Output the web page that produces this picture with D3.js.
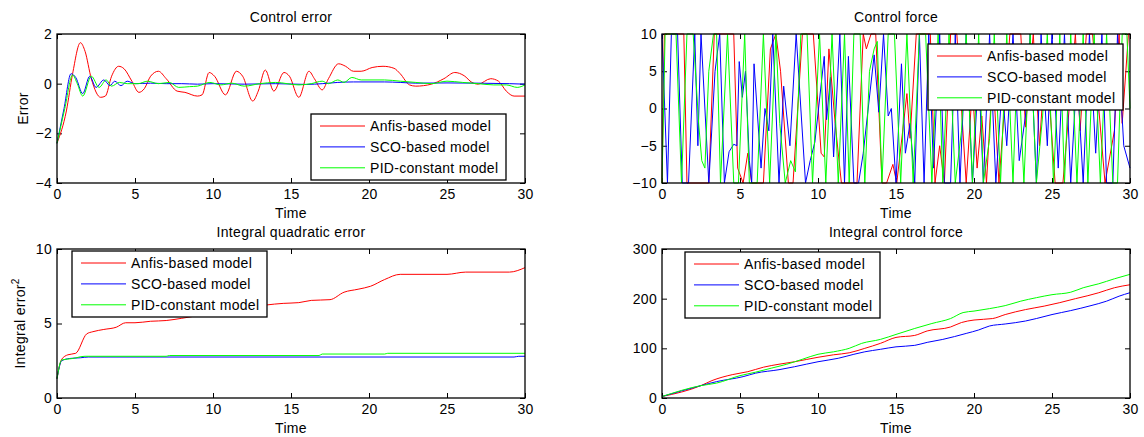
<!DOCTYPE html>
<html>
<head>
<meta charset="utf-8">
<style>
    body { margin: 0; background: #fff; }
    svg { display: block; }
    text { font-family: "Liberation Sans", Arial, Helvetica, sans-serif; fill: #000; letter-spacing: 0.3px; }
    .tick line { stroke: #000; }
    .tick text { font-size: 14px; }
    .lbl { font-size: 14px; }
</style>
</head>
<body>
<svg id="fig" width="1144" height="437"></svg>
<script src="https://d3js.org/d3.v7.min.js"></script>
<script>
    // legend + tick labels
    var seriesNames = ["Anfis-based model", "SCO-based model", "PID-constant model"];
    var seriesColors = ["#ff0000", "#0000ff", "#00ff00"];
    var timeTicks = [0, 5, 10, 15, 20, 25, 30];
    var errorTicks = [-4, -2, 0, 2];
    var forceTicks = [-10, -5, 0, 5, 10];
    var iseTicks = [0, 5, 10];
    var iforceTicks = [0, 100, 200, 300];

    // control error, [time, value]
    var errAnfis = [[0,-2.4],[0.6,-1.1],[1.0,0.4],[1.5,1.65],[1.8,1.3],[2.2,0.2],[2.8,-0.55],[3.1,-0.5],[3.5,0.3],
        [3.95,0.7],[4.3,0.6],[4.8,0.1],[5.25,-0.35],[5.6,-0.2],[6.0,0.3],[6.5,0.5],[7.0,0.2],[7.7,-0.3],[8.2,-0.35],
        [9.0,-0.5],[9.3,-0.45],[9.75,0.45],[10.1,0.3],[10.8,-0.45],[11.5,0.5],[11.9,0.3],[12.55,-0.7],[12.9,-0.3],
        [13.35,0.55],[13.9,-0.3],[14.55,0.45],[14.9,0.3],[15.5,-0.55],[16.15,0.5],[16.5,0.2],[17.0,-0.25],[17.4,0.2],
        [18.05,0.8],[18.5,0.7],[19.0,0.5],[19.5,0.5],[20.2,0.65],[20.9,0.7],[21.6,0.62],[22.0,0.4],[22.6,-0.05],
        [23.0,-0.1],[24.0,-0.02],[24.8,0.2],[25.5,0.45],[26.1,0.32],[26.6,0.05],[27.0,-0.02],[27.8,0.2],[28.3,0.1],
        [28.8,-0.3],[29.3,-0.5],[30,-0.5]];
    var errSco = [[0,-2.4],[0.45,-1.0],[0.9,0.4],[1.2,0.25],[1.65,-0.4],[2.1,0.3],[2.5,-0.15],[3.0,0.15],[3.4,-0.08],
        [3.7,0.1],[4.1,-0.08],[4.5,0.1],[5.0,0],[6,0.02],[7,0],[8,0],[9,-0.02],[10,0],[12,-0.02],[14,0],[16,-0.03],
        [17,0],[18,0.05],[19,0.07],[21,0.07],[22,0.05],[23,0.02],[25,0.03],[27,0.02],[29,0],[30,-0.02]];
    var errPid = [[0,-2.4],[0.5,-1.0],[1.0,0.35],[1.3,0.0],[1.65,-0.5],[2.2,0.3],[2.7,-0.15],[3.15,0.15],[3.5,-0.1],
        [4.0,0.05],[4.5,0.0],[5.2,0.0],[5.8,0.1],[6.5,0.0],[7.2,0.05],[7.8,-0.15],[8.5,-0.12],[9.0,-0.1],[9.8,0.05],
        [10.5,-0.05],[11.2,0.02],[12.0,-0.1],[13.0,0.0],[14.0,0.05],[15.5,-0.05],[16.3,0.0],[17.0,0.1],[17.4,0.0],
        [18.0,0.15],[18.4,0.05],[18.9,0.25],[19.5,0.15],[21.0,0.15],[22.0,0.1],[23.0,0.05],[24.0,0.0],[25.0,0.1],
        [26.0,0.05],[27.0,0.0],[28.0,-0.05],[28.8,-0.05],[29.5,-0.15],[30,-0.05]];

    // control force, [time, value]
    var forceAnfis = [[0,-10],[0.15,10],[1.4,10],[1.6,-10],[3.0,-10],[3.35,10],[4.6,10],[4.85,-8],[5.2,-10],[5.5,-6],
        [5.75,-10],[6.5,-10],[6.95,8],[7.3,10],[7.6,5],[8.1,-10],[8.4,-10],[9.0,10],[9.7,10],[10.2,-6],[10.4,-6.5],
        [10.7,8],[11.1,-2],[11.5,-10],[12.5,-10],[12.9,10],[13.1,8],[13.4,10],[13.7,10],[14.1,-10],[14.4,-10],
        [14.8,-7.5],[15.05,-10],[15.7,2],[15.9,-4],[16.3,10],[17.2,10],[17.5,-10],[17.8,-5],[18.1,-10],[18.5,10],
        [18.9,10],[19.5,-10],[19.9,3],[20.2,-8],[20.5,-1],[20.8,-10],[21.2,5],[21.6,-10],[22.3,10],[23.0,10],
        [23.3,-2.5],[23.8,10],[24.2,-5],[24.6,8],[25.2,-10],[25.7,-10],[26.5,10],[26.8,-3],[27.2,10],[27.6,10],
        [28.4,-10],[29.0,-3],[29.3,10],[29.5,-2],[29.9,10],[30,10]];
    var forceSco = [[0,10],[0.35,-10],[0.6,10],[1.0,10],[1.3,-10],[1.7,-10],[2.1,10],[2.3,-5],[2.5,10],[3.0,-10],
        [3.4,5],[3.7,10],[4.0,-10],[4.3,-5.8],[4.6,-4.8],[4.8,-5],[4.95,6.3],[5.15,1.5],[5.35,5],[5.6,-7],[5.75,-10],
        [5.9,6],[6.35,-8],[6.6,0],[6.85,-3],[7.1,10],[7.5,-10],[7.8,3],[8.2,-5],[8.6,10],[9.2,-10],[9.5,-7],
        [9.8,-4.5],[10.4,7],[10.55,-1.5],[10.8,4.2],[11.0,-6.5],[11.4,10],[11.7,-10],[11.95,7],[12.3,-10],[12.6,-10],
        [12.9,-6],[13.6,7.2],[13.9,-0.5],[14.2,10],[14.5,-1],[14.7,0],[15.0,-10],[15.35,6],[15.6,-6],[15.9,-2],
        [16.2,-10],[16.5,10],[16.8,-10],[17.1,10],[17.4,-8],[17.8,10],[18.1,-10],[18.5,-10],[18.8,10],[19.1,-10],
        [19.5,10],[19.9,-10],[20.3,5],[20.6,-10],[21.0,10],[21.4,-10],[21.8,3],[22.1,-5],[22.5,10],[22.9,-7],
        [23.3,-1],[23.6,10],[24.0,-10],[24.3,10],[24.7,-5],[25.0,10],[25.4,-8],[25.8,10],[26.2,-10],[26.6,5],
        [27.0,-10],[27.4,10],[27.8,-6],[28.2,10],[28.5,-10],[28.9,-10],[29.2,10],[29.6,-5],[30,-8]];
    var forcePid = [[0,-10],[0.2,10],[0.9,10],[1.25,-10],[1.6,10],[2.0,10],[2.35,-2],[2.55,-7],[2.75,-8],[3.0,5],
        [3.3,10],[3.5,10],[3.75,-10],[4.2,10],[4.6,-10],[4.9,-10],[5.3,10],[5.6,-10],[6.1,-10],[6.5,10],[6.9,-10],
        [7.3,10],[7.55,-2],[7.9,-10],[8.25,-7],[8.55,-8.5],[8.9,10],[9.3,10],[9.65,-10],[10.1,10],[10.5,-10],
        [10.9,10],[11.3,-10],[11.7,10],[12.0,-10],[12.3,10],[12.7,10],[13.0,-10],[13.3,5],[13.6,8],[13.8,9],
        [14.1,-10],[14.5,10],[14.9,10],[15.3,-10],[15.7,10],[16.1,-10],[16.5,10],[16.9,10],[17.3,-10],[17.7,10],
        [18.0,-10],[18.4,10],[18.8,-10],[19.2,-3],[19.5,10],[19.9,-10],[20.3,10],[20.6,-10],[21.0,-4],[21.3,10],
        [21.7,-10],[22.1,10],[22.5,-10],[22.8,8],[23.2,-10],[23.6,10],[24.0,-10],[24.4,-1],[24.7,10],[25.1,-10],
        [25.5,10],[25.8,-10],[26.2,10],[26.6,-10],[27.0,10],[27.3,-10],[27.7,10],[28.1,-10],[28.5,10],[28.9,-10],
        [29.2,-10],[29.5,10],[29.8,10],[30,0]];

    // integral quadratic error, [time, value]
    var iseAnfis = [[0,1.3],[0.3,2.6],[0.7,2.9],[1.2,3.0],[1.9,4.3],[2.3,4.45],[3.0,4.6],[3.8,4.75],[4.4,5.05],
        [5.0,5.05],[6.0,5.15],[7.0,5.2],[8.0,5.35],[10.0,5.7],[12.0,6.0],[13.4,6.24],[14.5,6.35],[15.5,6.4],
        [16.3,6.55],[17.5,6.6],[18.4,7.1],[19.3,7.3],[20.1,7.5],[21.0,7.95],[22.0,8.3],[25.0,8.3],[26.2,8.45],
        [29.0,8.45],[30,8.75]];
    var iseSco = [[0,1.3],[0.3,2.5],[0.8,2.65],[1.5,2.7],[2.0,2.75],[29.3,2.75],[29.6,2.8],[30,2.8]];
    var isePid = [[0,1.3],[0.3,2.55],[1.0,2.65],[1.8,2.8],[7.0,2.8],[7.2,2.85],[16.8,2.85],[17.0,2.95],
        [21.0,2.95],[21.2,3.0],[30,3.0]];

    // integral control force, [time, value]
    var ifAnfis = [[0,3],[2.5,25],[3.2,35],[4.5,47],[5.5,53],[6.5,62],[7.5,68],[8.5,73],[10,82],[11,87],[12,91],
        [13,100],[14,110],[15,122],[16.2,126],[17,135],[18.5,143],[19.2,152],[20,157],[21.2,160],[22,168],
        [23.3,178],[24.5,185],[25.5,192],[26.5,200],[27.3,206],[28,212],[29,222],[30,228]];
    var ifSco = [[0,3],[2.5,25],[3.5,33],[5.2,43],[6,50],[7.5,57],[8.5,63],[10,73],[11.3,80],[12.3,88],[13,93],
        [14,98],[15,103],[16.2,106],[17,112],[18,118],[19.5,130],[20.3,137],[21,145],[22,149],[23.3,155],
        [24,160],[25,168],[26.2,176],[27.5,186],[28.5,195],[29.3,205],[30,212]];
    var ifPid = [[0,3],[2.5,25],[3.5,30],[5,45],[6,52],[7,60],[8,68],[9,78],[10,88],[11,93],[12,100],[12.8,110],
        [14,118],[15,128],[16.2,140],[17.3,150],[18.5,160],[19.3,172],[20,175],[21,180],[22,186],[23,195],
        [24,202],[25,208],[26.2,213],[27,222],[28,230],[29,240],[30,249]];

    var svg = d3.select("#fig");

    function drawPanel(p) {
        var x = d3.scaleLinear().domain([0, 30]).range([p.left, p.right]);
        var y = d3.scaleLinear().domain(p.yDomain).range([p.bottom, p.top]);
        var g = svg.append("g");

        g.append("rect")
            .attr("x", p.left).attr("y", p.top)
            .attr("width", p.right - p.left).attr("height", p.bottom - p.top)
            .attr("fill", "#fff");

        var ax = [
            d3.axisBottom(x).tickValues(timeTicks).tickFormat(d3.format("d")).tickPadding(6),
            d3.axisTop(x).tickValues(timeTicks).tickFormat(""),
            d3.axisLeft(y).tickValues(p.yTicks).tickFormat(d3.format("d")).tickPadding(5),
            d3.axisRight(y).tickValues(p.yTicks).tickFormat("")
        ];
        var pos = ["translate(0," + p.bottom + ")", "translate(0," + p.top + ")",
            "translate(" + p.left + ",0)", "translate(" + p.right + ",0)"];
        ax.forEach(function (a, i) {
            var ag = g.append("g").attr("transform", pos[i])
                .call(a.tickSizeInner(-5).tickSizeOuter(0));
            ag.select(".domain").remove();
            ag.selectAll("text").attr("fill", "#000");
        });

        var line = d3.line()
            .x(function (d) { return x(d[0]); })
            .y(function (d) { return y(d[1]); })
            .curve(p.curve);

        p.series.forEach(function (s, i) {
            g.append("path")
                .datum(s)
                .attr("fill", "none")
                .attr("stroke", seriesColors[i])
                .attr("stroke-width", 1)
                .attr("d", line);
        });

        g.append("rect")
            .attr("x", p.left).attr("y", p.top)
            .attr("width", p.right - p.left).attr("height", p.bottom - p.top)
            .attr("fill", "none").attr("stroke", "#000").attr("stroke-width", 1.3);

        var cx = (p.left + p.right) / 2;
        g.append("text").attr("class", "lbl")
            .attr("x", cx).attr("y", p.top - 12.5)
            .attr("text-anchor", "middle").text(p.title);
        g.append("text").attr("class", "lbl")
            .attr("x", cx).attr("y", p.bottom + 35)
            .attr("text-anchor", "middle").text("Time");

        if (p.ylabel) {
            var yl = g.append("text").attr("class", "lbl")
                .attr("text-anchor", "middle")
                .attr("transform", "translate(" + p.ylabelX + "," + ((p.top + p.bottom) / 2) + ") rotate(-90)")
                .text(p.ylabel);
            if (p.ysup) {
                yl.append("tspan").attr("font-size", "10px").attr("dy", -6).text(p.ysup);
            }
        }

        // legend
        var lg = g.append("g").attr("transform", "translate(" + p.legend[0] + "," + p.legend[1] + ")");
        lg.append("rect")
            .attr("width", 195).attr("height", 66)
            .attr("fill", "#fff").attr("stroke", "#000").attr("stroke-width", 1.3);
        seriesNames.forEach(function (name, i) {
            var ry = 12 + i * 20.9;
            lg.append("line")
                .attr("x1", 9).attr("x2", 54).attr("y1", ry).attr("y2", ry)
                .attr("stroke", seriesColors[i]).attr("stroke-width", 1);
            lg.append("text").attr("class", "lbl")
                .attr("x", 59).attr("y", ry + 5)
                .text(name);
        });
    }

    drawPanel({
        left: 57, right: 525, top: 34, bottom: 183,
        yDomain: [-4, 2], yTicks: errorTicks,
        title: "Control error", ylabel: "Error", ylabelX: 28,
        series: [errAnfis, errSco, errPid], curve: d3.curveMonotoneX,
        legend: [311, 114]
    });
    drawPanel({
        left: 662, right: 1130, top: 34, bottom: 183,
        yDomain: [-10, 10], yTicks: forceTicks,
        title: "Control force",
        series: [forceAnfis, forceSco, forcePid], curve: d3.curveLinear,
        legend: [928, 44]
    });
    drawPanel({
        left: 57, right: 525, top: 249, bottom: 398,
        yDomain: [0, 10], yTicks: iseTicks,
        title: "Integral quadratic error", ylabel: "Integral error", ysup: "2", ylabelX: 25,
        series: [iseAnfis, iseSco, isePid], curve: d3.curveMonotoneX,
        legend: [72, 251]
    });
    drawPanel({
        left: 662, right: 1130, top: 249, bottom: 398,
        yDomain: [0, 300], yTicks: iforceTicks,
        title: "Integral control force",
        series: [ifAnfis, ifSco, ifPid], curve: d3.curveMonotoneX,
        legend: [685, 252]
    });
</script>
</body>
</html>
